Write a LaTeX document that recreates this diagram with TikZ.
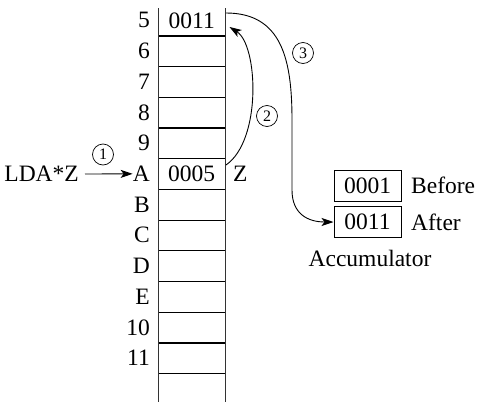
\documentclass[tikz,border=0pt]{standalone}
\usepackage{fontspec}
\setmainfont{Liberation Serif}
\usetikzlibrary{arrows.meta}
\begin{document}
\begin{tikzpicture}[x=1pt,y=-1pt,
  txt/.style={inner sep=0pt,font=\fontsize{23.5}{27}\selectfont},
  cell/.style={inner sep=0pt,minimum width=67pt,minimum height=30.7pt,font=\fontsize{23.5}{27}\selectfont},
  rowline/.style={line width=1.2pt},
  wall/.style={line width=0.9pt,black!80},
  conn/.style={line width=0.9pt,-{Stealth[length=12pt,width=8pt,inset=3pt]}},
  num/.style={draw,circle,line width=0.7pt,inner sep=0pt,minimum size=21pt,font=\fontsize{16}{16}\selectfont},
  accbox/.style={draw,line width=1pt,inner sep=0pt,minimum width=67pt,minimum height=31pt,font=\fontsize{23.5}{27}\selectfont}]
\useasboundingbox (0,0) rectangle (477,402);
% memory cells
\node[cell] (c0) at (191.7,20.35) {0011};
\foreach \k in {1,...,11}{
  \node[cell] (c\k) at (191.7,20.35+30.7*\k) {};
}
\node[cell] (c5) at (191.7,20.35+30.7*5) {0005};
\foreach \k in {0,...,11}{
  \draw[rowline] (c\k.south west) -- (c\k.south east);
}
\coordinate (tl) at (158.2,8);
\coordinate (bl) at (158.2,402);
\coordinate (tr) at (225.2,8);
\coordinate (br) at (225.2,402);
\draw[wall] (tl) -- (bl);
\draw[wall] (tr) -- (br);
% row labels
\foreach \k/\t in {0/5,1/6,2/7,3/8,4/9,5/A,6/B,7/C,8/D,9/E,10/10,11/11}{
  \node[txt,anchor=east] (l\k) at (150,20.35+30.7*\k) {\t};
}
\node[txt,anchor=west] (z) at (233,20.35+30.7*5) {Z};
% instruction
\node[txt,anchor=east] (lda) at (79,174) {LDA*Z};
\draw[conn] (lda.east) ++(6,0) coordinate (a1s) -- (l5.west);
\node[num] (n1) at (103,154.5) {1};
% arrow 2
\coordinate (s2) at (226,165);
\coordinate (e2) at (229.5,27);
\draw[conn] (s2) .. controls (262,140) and (258,45) .. (e2);
\node[num] (n2) at (267,116) {2};
% accumulator
\node[accbox] (before) at (367.5,185.5) {0001};
\node[accbox] (after) at (367.5,222) {0011};
\node[txt,anchor=west] (bt) at (411,185.5) {Before};
\node[txt,anchor=west] (at) at (411,222) {After};
\node[txt] (acc) at (370,258) {Accumulator};
% arrow 3
\coordinate (s3) at (226,13);
\draw[conn] (s3) .. controls (282,13) and (292,60) .. (292,120) -- (292,190) .. controls (292,214) and (308,222) .. (after.west);
\node[num] (n3) at (303,53) {3};
\end{tikzpicture}
\end{document}
